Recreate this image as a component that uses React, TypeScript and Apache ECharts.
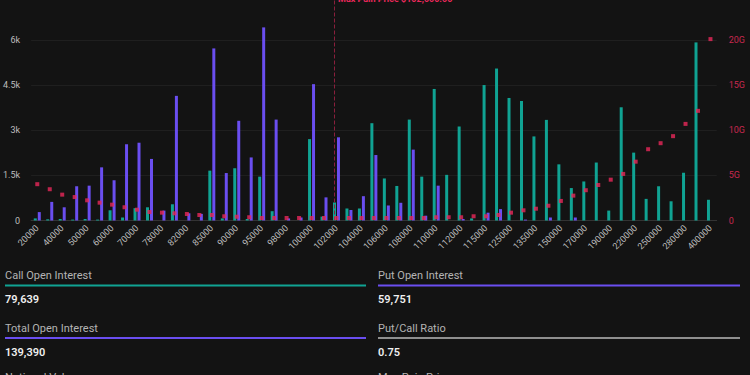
import React, { useEffect, useRef } from 'react';
import * as echarts from 'echarts';

const strikes = ['20000','30000','40000','45000','50000','55000','60000','65000','70000','75000','78000','80000','82000','84000','85000','88000','90000','92000','95000','96000','98000','99000','100000','101000','102000','103000','104000','105000','106000','107000','108000','109000','110000','111000','112000','114000','115000','120000','125000','130000','135000','140000','150000','160000','170000','180000','190000','200000','220000','240000','250000','260000','280000','300000','400000'];

const callOI = [70,40,50,30,50,30,340,100,410,440, 0,540,0,0,1660,70,1740,50,1460,310, 0,0,2710,130,600,400,400,3240,1400,1150, 3360,1460,4380,1520,3130,70,4510,5060,4080,3980, 2800,3350,1870,1080,1300,1930,330,3770,2260,720, 1140,640,1590,5930,690];

const putOI = [280,620,440,1140,1160,1770,1340,2540,2590,2050, 330,4150,240,220,5730,1580,3320,2100,6430,3360, 70,100,4540,770,2770,350,810,2180,500,590, 2360,160,1160,0,50,0,260,380,0,30, 0,100,0,100,0,0,0,0,0,0, 0,0,0,0,0];

// total intrinsic value at expiry, in billions (G)
const maxPainValue = [4.03,3.47,2.87,2.6,2.24,1.98,1.76,1.47,1.2,0.94, 0.87,0.8,0.72,0.61,0.61,0.47,0.42,0.36,0.28,0.28, 0.28,0.28,0.28,0.28,0.28,0.28,0.28,0.28,0.28,0.28, 0.28,0.28,0.36,0.36,0.36,0.47,0.47,0.61,0.87,1.13, 1.31,1.64,2.17,2.76,3.36,3.94,4.53,5.17,6.53,7.91, 8.58,9.36,10.72,12.17,20.13];

const maxPainStrike = '102000';
const maxPainLabel = 'Max Pain Price $102,000.00';

const statLabels = ['Call Open Interest', 'Put Open Interest', 'Total Open Interest', 'Put/Call Ratio'];
const statValues = ['79,639', '59,751', '139,390', '0.75'];
const footLabels = ['Notional Value', 'Max Pain Price'];

const TEAL = '#10a393';
const PURPLE = '#6a4ef0';
const RED = '#e8285a';
const BG = '#131313';
const FONT = 'Roboto, "Noto Sans", sans-serif';

export default function App() {
  const ref = useRef<HTMLDivElement>(null);
  useEffect(() => {
    if (!ref.current) return;
    const chart = echarts.init(ref.current, null, { renderer: 'svg' });
    const lineColors = [TEAL, PURPLE, PURPLE, '#8f8f8f'];
    const stats: any[] = [];
    statLabels.forEach((lab, i) => {
      const col = i % 2;
      const row = Math.floor(i / 2);
      const x = col === 0 ? 5 : 378;
      const w = col === 0 ? 361 : 362;
      const y0 = 274 + row * 52.5;
      stats.push({ type: 'text', left: x, top: y0 - 4, style: { text: lab, fill: '#b4b4b4', font: `11px ${FONT}` } });
      stats.push({ type: 'rect', shape: { x, y: y0 + 10.5, width: w, height: 2 }, style: { fill: lineColors[i] } });
      stats.push({ type: 'text', left: x, top: y0 + 20, style: { text: statValues[i], fill: '#f0f0f0', font: `600 11px ${FONT}` } });
    });
    footLabels.forEach((lab, i) => {
      stats.push({ type: 'text', left: i === 0 ? 5 : 378, top: 372, style: { text: lab, fill: '#b4b4b4', font: `11px ${FONT}` } });
    });
    stats.push({ type: 'text', left: 338, top: -6, style: { text: maxPainLabel, fill: RED, font: `bold 9px ${FONT}` } });

    chart.setOption({
      animation: false,
      backgroundColor: BG,
      grid: { left: 28.3, right: 33.3, top: 0, bottom: 154.5, containLabel: false },
      xAxis: {
        type: 'category',
        data: strikes,
        axisLine: { show: true, lineStyle: { color: '#333333', width: 1 } },
        axisTick: { show: false },
        axisLabel: { interval: 1, rotate: 45, color: '#bdbdbd', fontSize: 9, fontFamily: FONT, margin: 6 },
      },
      yAxis: [
        {
          type: 'value', min: 0, max: 7342, interval: 1500,
          axisLabel: {
            color: '#bdbdbd', fontSize: 9, fontFamily: FONT, margin: 11, showMaxLabel: false,
            formatter: (v: number) => (v === 0 ? '0' : `${v / 1000}k`),
          },
          splitLine: { show: true, showMaxLine: false, lineStyle: { color: '#1f1f1f' } },
          axisLine: { show: false }, axisTick: { show: false },
        },
        {
          type: 'value', min: 0, max: 24.47, interval: 5, position: 'right',
          axisLabel: {
            color: '#c8284f', fontSize: 9, fontFamily: FONT, margin: 12, showMaxLabel: false,
            formatter: (v: number) => (v === 0 ? '0' : `${v}G`),
          },
          splitLine: { show: false },
          axisLine: { show: false }, axisTick: { show: false },
        },
      ],
      series: [
        {
          name: 'Calls', type: 'bar', data: callOI, barWidth: 3, barGap: '33%',
          itemStyle: { color: TEAL },
          markLine: {
            silent: true, symbol: ['none', 'none'],
            lineStyle: { type: [4, 2], color: '#8a1f3c', width: 1 },
            label: { show: false },
            data: [{ xAxis: maxPainStrike }],
          },
        },
        { name: 'Puts', type: 'bar', data: putOI, barWidth: 3, itemStyle: { color: PURPLE } },
        {
          name: 'Max Pain', type: 'scatter', yAxisIndex: 1, data: maxPainValue,
          symbol: 'rect', symbolSize: 4, itemStyle: { color: RED }, z: 5,
        },
      ],
      graphic: stats,
    });
    return () => chart.dispose();
  }, []);
  return <div ref={ref} style={{ position: 'absolute', left: 0, top: 0, width: 750, height: 375 }} />;
}
